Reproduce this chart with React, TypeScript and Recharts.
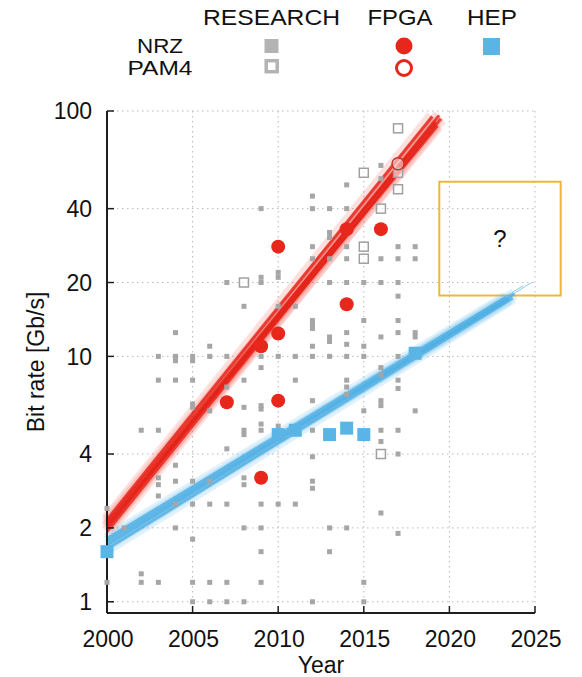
import React from 'react'
import { ComposedChart, Line, Scatter, XAxis, YAxis, CartesianGrid, ReferenceArea } from 'recharts'

const yearTicks = [2000, 2005, 2010, 2015, 2020, 2025]
const rateTicks = [1, 2, 4, 10, 20, 40, 100]

// [year, bit rate in Gb/s]
const researchNrz: [number, number][] = [
  [2000, 2.4], [2000, 1.2],
  [2001, 2.0],
  [2002, 5.0], [2002, 1.3], [2002, 1.2],
  [2003, 10], [2003, 8.0], [2003, 5.0], [2003, 3.2], [2003, 3.0], [2003, 2.7], [2003, 1.2],
  [2004, 12.5], [2004, 10], [2004, 9.6], [2004, 8.0], [2004, 3.6], [2004, 3.1], [2004, 2.5], [2004, 2.0],
  [2005, 10], [2005, 9.6], [2005, 8.0], [2005, 6.4], [2005, 6.2], [2005, 3.1], [2005, 2.5], [2005, 1.8], [2005, 1.2], [2005, 1.0],
  [2006, 11], [2006, 10], [2006, 6.0], [2006, 3.1], [2006, 2.5], [2006, 1.2], [2006, 1.0],
  [2007, 20], [2007, 10], [2007, 7.5], [2007, 4.2], [2007, 2.5], [2007, 1.2], [2007, 1.0],
  [2008, 16], [2008, 8.0], [2008, 6.2], [2008, 5.0], [2008, 4.8], [2008, 3.2], [2008, 3.0], [2008, 2.0], [2008, 1.0],
  [2009, 40], [2009, 21], [2009, 20], [2009, 10], [2009, 9.0], [2009, 6.3], [2009, 6.1], [2009, 5.3], [2009, 5.0], [2009, 2.5], [2009, 2.0], [2009, 1.6], [2009, 1.2],
  [2010, 22], [2010, 21], [2010, 16], [2010, 10], [2010, 5.2], [2010, 2.5],
  [2011, 16], [2011, 10], [2011, 8.0], [2011, 2.5],
  [2012, 45], [2012, 40], [2012, 28], [2012, 25], [2012, 14], [2012, 13.5], [2012, 13], [2012, 11], [2012, 10], [2012, 6.6], [2012, 5.0], [2012, 3.9], [2012, 3.1], [2012, 2.9], [2012, 1.0],
  [2013, 40], [2013, 32], [2013, 30.5], [2013, 25], [2013, 20], [2013, 12], [2013, 11.5], [2013, 10], [2013, 2.0], [2013, 1.6],
  [2014, 50], [2014, 40], [2014, 28], [2014, 25], [2014, 20], [2014, 12.5], [2014, 11.2], [2014, 10], [2014, 8.0], [2014, 7.5], [2014, 7.0], [2014, 2.0],
  [2015, 20], [2015, 14], [2015, 11], [2015, 10], [2015, 6.0], [2015, 1.2], [2015, 1.0],
  [2016, 60], [2016, 53], [2016, 25], [2016, 20], [2016, 12], [2016, 9.0], [2016, 8.4], [2016, 6.6], [2016, 6.3], [2016, 5.0], [2016, 4.5], [2016, 2.3],
  [2017, 28], [2017, 25], [2017, 20], [2017, 17.6], [2017, 14], [2017, 12.5], [2017, 10], [2017, 8.0], [2017, 7.4], [2017, 5.0], [2017, 4.0], [2017, 1.9],
  [2018, 28], [2018, 25], [2018, 12.5], [2018, 12], [2018, 6.0],
]
const researchPam4: [number, number][] = [
  [2008, 20], [2015, 56], [2015, 28], [2015, 25], [2016, 40], [2016, 4.0], [2017, 85], [2017, 56], [2017, 48],
]
const fpgaNrz: [number, number][] = [
  [2007, 6.5], [2009, 3.2], [2009, 11], [2010, 6.6], [2010, 12.4], [2010, 28], [2014, 33], [2014, 16.3], [2016, 33],
]
const fpgaPam4: [number, number][] = [[2017, 61]]
const hepNrz: [number, number][] = [
  [2000, 1.6], [2010, 4.8], [2011, 5.0], [2013, 4.8], [2014, 5.1], [2015, 4.8], [2018, 10.3],
]

// fitted trends, start and end points
const fpgaFits: [number, number][][] = [
  [[2000, 2.0], [2019.4, 96]],
  [[2000, 2.1], [2019.2, 90]],
  [[2000, 1.93], [2019.5, 93]],
  [[2000, 2.16], [2019.0, 95]],
  [[2000, 2.04], [2019.3, 87]],
]
const hepFits: [number, number][][] = [
  [[2000, 1.64], [2023.7, 17.3]],
  [[2000, 1.76], [2023.5, 17.2]],
  [[2000, 1.7], [2023.8, 18.0]],
  [[2000, 1.81], [2023.3, 17.4]],
]
const hepFitsThin: [number, number][][] = [
  [[2000, 1.7], [2024.8, 20]],
  [[2000, 1.72], [2024.3, 19.4]],
]

const legendCols = ['RESEARCH', 'FPGA', 'HEP']
const legendRows = ['NRZ', 'PAM4']

const toRows = (pts: [number, number][]) => pts.map(([year, rate]) => ({ year, rate }))

const FONT = '"Liberation Sans", Arial, Helvetica, sans-serif'
const GREY = '#a6a6a6'
const RED = '#e8271c'
const BLUE = '#5ab5e6'
const AXIS = '#1e1e1e'

const greySquare = (p: any) => <rect x={p.cx - 2.5} y={p.cy - 2.5} width={5} height={5} fill={GREY} />
const greyHollow = (p: any) => (
  <rect x={p.cx - 4.5} y={p.cy - 4.5} width={9} height={9} fill="#fff" fillOpacity={0.6} stroke="#a0a0a0" strokeWidth={1.5} />
)
const redDot = (p: any) => <circle cx={p.cx} cy={p.cy} r={7} fill={RED} />
const redHollow = (p: any) => (
  <circle cx={p.cx} cy={p.cy} r={6} fill="#fff" fillOpacity={0.5} stroke="#c8302a" strokeWidth={1.5} />
)
const blueSquare = (p: any) => <rect x={p.cx - 6.5} y={p.cy - 6.5} width={13} height={13} fill={BLUE} />

const BottomTick = (p: any) => (
  <g>
    <line x1={p.x} x2={p.x} y1={p.y} y2={p.y - 7} stroke={AXIS} strokeWidth={1.5} />
    <text x={p.x + 1} y={p.y + 34} textAnchor="middle" fontSize={23} fontFamily={FONT} fill="#111">
      {p.payload.value}
    </text>
  </g>
)
const TopTick = (p: any) => <line x1={p.x} x2={p.x} y1={p.y} y2={p.y + 7} stroke={AXIS} strokeWidth={1.5} />
const LeftTick = (p: any) => (
  <g>
    <line x1={p.x} x2={p.x + 7} y1={p.y} y2={p.y} stroke={AXIS} strokeWidth={1.5} />
    <text x={p.x - 15} y={p.y} dy="0.36em" textAnchor="end" fontSize={23} fontFamily={FONT} fill="#111">
      {p.payload.value}
    </text>
  </g>
)
const RightTick = (p: any) => <line x1={p.x} x2={p.x - 7} y1={p.y} y2={p.y} stroke={AXIS} strokeWidth={1.5} />

function Legend() {
  const colX = [271.5, 400, 492]
  const colLen = [137, 65, 50]
  const rowY = [53, 75]
  const rowLen = [46, 65]
  return (
    <svg width={582} height={90} style={{ position: 'absolute', left: 0, top: 0 }}>
      {legendCols.map((c, i) => (
        <text key={c} x={colX[i]} y={25} textAnchor="middle" fontSize={22} fontFamily={FONT} fill="#111"
          textLength={colLen[i]} lengthAdjust="spacingAndGlyphs">{c}</text>
      ))}
      {legendRows.map((r, i) => (
        <text key={r} x={160} y={rowY[i]} textAnchor="middle" fontSize={20} fontFamily={FONT} fill="#111"
          textLength={rowLen[i]} lengthAdjust="spacingAndGlyphs">{r}</text>
      ))}
      <rect x={264.5} y={39} width={14} height={14} fill="#b3b3b3" />
      <rect x={266.2} y={60.7} width={11} height={11} fill="#fff" stroke="#b3b3b3" strokeWidth={3.5} />
      <circle cx={404} cy={46} r={8.5} fill={RED} />
      <circle cx={404} cy={68} r={7.5} fill="#fff" stroke={RED} strokeWidth={3} />
      <rect x={483} y={38} width={17} height={17} fill={BLUE} />
    </svg>
  )
}

export default function App() {
  return (
    <div style={{ position: 'absolute', left: 0, top: 0, width: 582, height: 677, background: '#fff' }}>
      <ComposedChart width={582} height={677} margin={{ top: 111, right: 47, bottom: 0, left: 0 }}>
        <CartesianGrid stroke="#b8b8b8" strokeDasharray="1.5 3.5" strokeWidth={1} />
        <XAxis
          dataKey="year" type="number" domain={[2000, 2025]} ticks={yearTicks} interval={0}
          height={64} tickSize={0} tickMargin={0} tickLine={false} tick={BottomTick}
          axisLine={{ stroke: AXIS, strokeWidth: 2 }}
          label={{ value: 'Year', position: 'insideBottom', offset: 4, fontSize: 23, fontFamily: FONT, fill: '#111' }}
        />
        <XAxis
          xAxisId="top" orientation="top" dataKey="year" type="number" domain={[2000, 2025]}
          ticks={yearTicks.slice(1)} interval={0} height={0} tickSize={0} tickMargin={0} tickLine={false}
          axisLine={false} tick={TopTick}
        />
        <YAxis
          dataKey="rate" type="number" scale="log" domain={[0.9, 100]} ticks={rateTicks} interval={0}
          width={107} tickSize={0} tickMargin={0} tickLine={false} tick={LeftTick}
          axisLine={{ stroke: AXIS, strokeWidth: 2 }}
          label={{ value: 'Bit rate [Gb/s]', angle: -90, position: 'insideLeft', offset: 36, fontSize: 23, fontFamily: FONT, fill: '#111', style: { textAnchor: 'middle' } }}
        />
        <YAxis
          yAxisId="right" orientation="right" dataKey="rate" type="number" scale="log" domain={[0.9, 100]}
          ticks={rateTicks} interval={0} width={0} tickSize={0} tickMargin={0} tickLine={false}
          axisLine={false} tick={RightTick}
        />

        <Scatter data={toRows(researchNrz)} dataKey="rate" shape={greySquare} isAnimationActive={false} />
        <Scatter data={toRows(researchPam4)} dataKey="rate" shape={greyHollow} isAnimationActive={false} />

        {fpgaFits.map((f, i) => (
          <Line key={'fh' + i} data={toRows(f)} dataKey="rate" stroke="#f04030" strokeOpacity={0.16} strokeWidth={13}
            dot={false} activeDot={false} isAnimationActive={false} />
        ))}
        {fpgaFits.map((f, i) => (
          <Line key={'fc' + i} data={toRows(f)} dataKey="rate" stroke="#e41f15" strokeOpacity={0.8} strokeWidth={3}
            dot={false} activeDot={false} isAnimationActive={false} />
        ))}
        {hepFits.map((f, i) => (
          <Line key={'hh' + i} data={toRows(f)} dataKey="rate" stroke="#6cc0ec" strokeOpacity={0.22} strokeWidth={12}
            dot={false} activeDot={false} isAnimationActive={false} />
        ))}
        {hepFits.map((f, i) => (
          <Line key={'hc' + i} data={toRows(f)} dataKey="rate" stroke="#4eaee2" strokeOpacity={0.8} strokeWidth={3}
            dot={false} activeDot={false} isAnimationActive={false} />
        ))}
        {hepFitsThin.map((f, i) => (
          <Line key={'ht' + i} data={toRows(f)} dataKey="rate" stroke="#5ab5e6" strokeOpacity={0.7} strokeWidth={1}
            dot={false} activeDot={false} isAnimationActive={false} />
        ))}

        <Scatter data={toRows(fpgaNrz)} dataKey="rate" shape={redDot} isAnimationActive={false} />
        <Scatter data={toRows(fpgaPam4)} dataKey="rate" shape={redHollow} isAnimationActive={false} />
        <Scatter data={toRows(hepNrz)} dataKey="rate" shape={blueSquare} isAnimationActive={false} />

        <ReferenceArea
          x1={2019.41} x2={2026.5} y1={17.7} y2={51.5} ifOverflow="visible"
          stroke="#f0b63c" strokeWidth={2} fill="none"
          label={{ value: '?', position: 'center', fontSize: 24, fontFamily: FONT, fill: '#111' }}
        />
      </ComposedChart>
      <Legend />
    </div>
  )
}
